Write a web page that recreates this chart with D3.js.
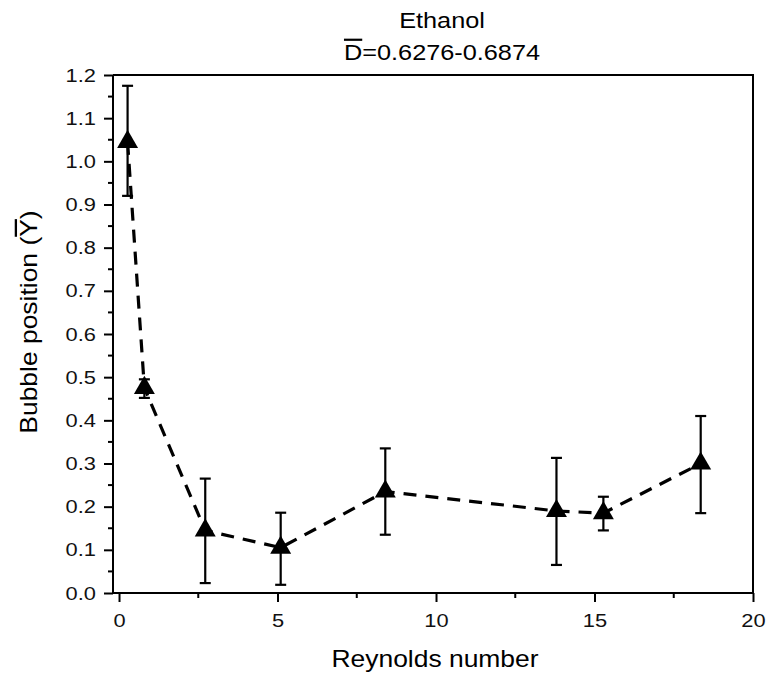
<!DOCTYPE html>
<html lang="en">
<head>
  <meta charset="UTF-8">
  <title>Ethanol bubble position</title>
  <script src="https://cdn.jsdelivr.net/npm/d3@7"></script>
  <style>
    body { margin: 0; background: #fff; }
    svg { display: block; font-family: "Liberation Sans", Arial, sans-serif; }
  </style>
</head>
<body>
  <div id="chart"></div>
  <script>
    // values
    const reynolds = [0.27, 0.8, 2.72, 5.1, 8.4, 13.8, 15.28, 18.35]
    const position = [1.045, 0.475, 0.145, 0.105, 0.235, 0.19, 0.185, 0.3]
    const errUpper = [1.175, 0.495, 0.265, 0.186, 0.335, 0.313, 0.223, 0.41]
    const errLower = [0.92, 0.452, 0.023, 0.019, 0.135, 0.065, 0.145, 0.185]
    const xTicks = [0, 5, 10, 15, 20]
    const xMinor = [2.5, 7.5, 12.5, 17.5]
    const yTicks = [0, 0.1, 0.2, 0.3, 0.4, 0.5, 0.6, 0.7, 0.8, 0.9, 1.0, 1.1, 1.2]
    const yMinor = [0.05, 0.15, 0.25, 0.35, 0.45, 0.55, 0.65, 0.75, 0.85, 0.95, 1.05, 1.15]

    const width = 769
    const height = 675
    const margin = { top: 75, right: 16, bottom: 82, left: 113 }
    const stretch = 1.15   // the original's lettering is a bit wider than Arial

    const svg = d3.select("#chart")
      .append("svg")
      .attr("width", width)
      .attr("height", height)

    const x = d3.scaleLinear()
      .domain([-0.19, 20])
      .range([margin.left, width - margin.right])

    const y = d3.scaleLinear()
      .domain([0, 1.2])
      .range([height - margin.bottom, margin.top])

    const data = reynolds.map((r, i) => ({ r, p: position[i], hi: errUpper[i], lo: errLower[i] }))

    // frame top + right
    svg.append("path")
      .attr("d", `M${x(-0.19)},${y(1.2)}H${x(20)}V${y(0)}`)
      .attr("fill", "none")
      .attr("stroke", "#000")
      .attr("stroke-width", 2)

    // x axis
    const xAxis = svg.append("g")
      .attr("transform", `translate(0,${y(0)})`)
      .call(d3.axisBottom(x).tickValues(xTicks).tickSize(9).tickFormat(d3.format("d")))
    xAxis.selectAll(".tick text")
      .attr("y", null).attr("dy", null)
      .attr("transform", `translate(0,34) scale(${stretch},1)`)
    xAxis.append("g").selectAll("line")
      .data(xMinor)
      .join("line")
      .attr("x1", d => x(d)).attr("x2", d => x(d))
      .attr("y1", 0).attr("y2", 5)
      .attr("stroke", "#000").attr("stroke-width", 2)

    // y axis
    const yAxis = svg.append("g")
      .attr("transform", `translate(${x(-0.19)},0)`)
      .call(d3.axisLeft(y).tickValues(yTicks).tickSize(9).tickFormat(d3.format(".1f")))
    yAxis.selectAll(".tick text")
      .attr("x", null)
      .attr("transform", `translate(-17,0) scale(${stretch},1)`)
    yAxis.append("g").selectAll("line")
      .data(yMinor)
      .join("line")
      .attr("y1", d => y(d)).attr("y2", d => y(d))
      .attr("x1", 0).attr("x2", -5)
      .attr("stroke", "#000").attr("stroke-width", 2)

    svg.selectAll(".domain, .tick line")
      .attr("stroke", "#000")
      .attr("stroke-width", 2)
    xAxis.select(".domain").attr("d", `M${x(-0.19)},0H${x(20)}`)
    yAxis.select(".domain").attr("d", `M0,${y(0)}V${y(1.2)}`)
    svg.selectAll(".tick text")
      .attr("font-size", 19)
      .attr("font-family", "Liberation Sans, Arial, sans-serif")
      .attr("fill", "#111")

    // dashed line
    svg.append("path")
      .datum(data)
      .attr("fill", "none")
      .attr("stroke", "#000")
      .attr("stroke-width", 3.2)
      .attr("stroke-dasharray", "13,9")
      .attr("d", d3.line().x(d => x(d.r)).y(d => y(d.p)))

    // error bars
    const cap = 5.5
    const eb = svg.append("g")
      .attr("stroke", "#000")
      .attr("stroke-width", 2.2)
    eb.selectAll(".stem")
      .data(data)
      .join("line")
      .attr("x1", d => x(d.r)).attr("x2", d => x(d.r))
      .attr("y1", d => y(d.hi)).attr("y2", d => y(d.lo))
    eb.selectAll(".capHi")
      .data(data)
      .join("line")
      .attr("class", "capHi")
      .attr("x1", d => x(d.r) - cap).attr("x2", d => x(d.r) + cap)
      .attr("y1", d => y(d.hi)).attr("y2", d => y(d.hi))
    eb.selectAll(".capLo")
      .data(data)
      .join("line")
      .attr("class", "capLo")
      .attr("x1", d => x(d.r) - cap).attr("x2", d => x(d.r) + cap)
      .attr("y1", d => y(d.lo)).attr("y2", d => y(d.lo))

    // triangle markers
    svg.append("g")
      .selectAll("path")
      .data(data)
      .join("path")
      .attr("transform", d => `translate(${x(d.r)},${y(d.p)})`)
      .attr("d", d3.symbol(d3.symbolTriangle, 190))
      .attr("fill", "#000")

    // titles
    const cx = 442
    svg.append("text")
      .attr("transform", `translate(${cx},28) scale(${stretch},1)`)
      .attr("text-anchor", "middle")
      .attr("font-size", 22)
      .text("Ethanol")
    const sub = svg.append("text")
      .attr("transform", `translate(${cx},60) scale(${stretch},1)`)
      .attr("text-anchor", "middle")
      .attr("font-size", 22)
    sub.append("tspan").style("text-decoration", "overline").text("D")
    sub.append("tspan").text("=0.6276-0.6874")

    svg.append("text")
      .attr("transform", `translate(435,667) scale(${stretch},1)`)
      .attr("text-anchor", "middle")
      .attr("font-size", 23)
      .text("Reynolds number")

    const yl = svg.append("text")
      .attr("transform", `translate(37,322) rotate(-90) scale(${stretch},1)`)
      .attr("text-anchor", "middle")
      .attr("font-size", 23)
    yl.append("tspan").text("Bubble position (")
    yl.append("tspan").style("text-decoration", "overline").text("Y")
    yl.append("tspan").text(")")
  </script>
</body>
</html>
